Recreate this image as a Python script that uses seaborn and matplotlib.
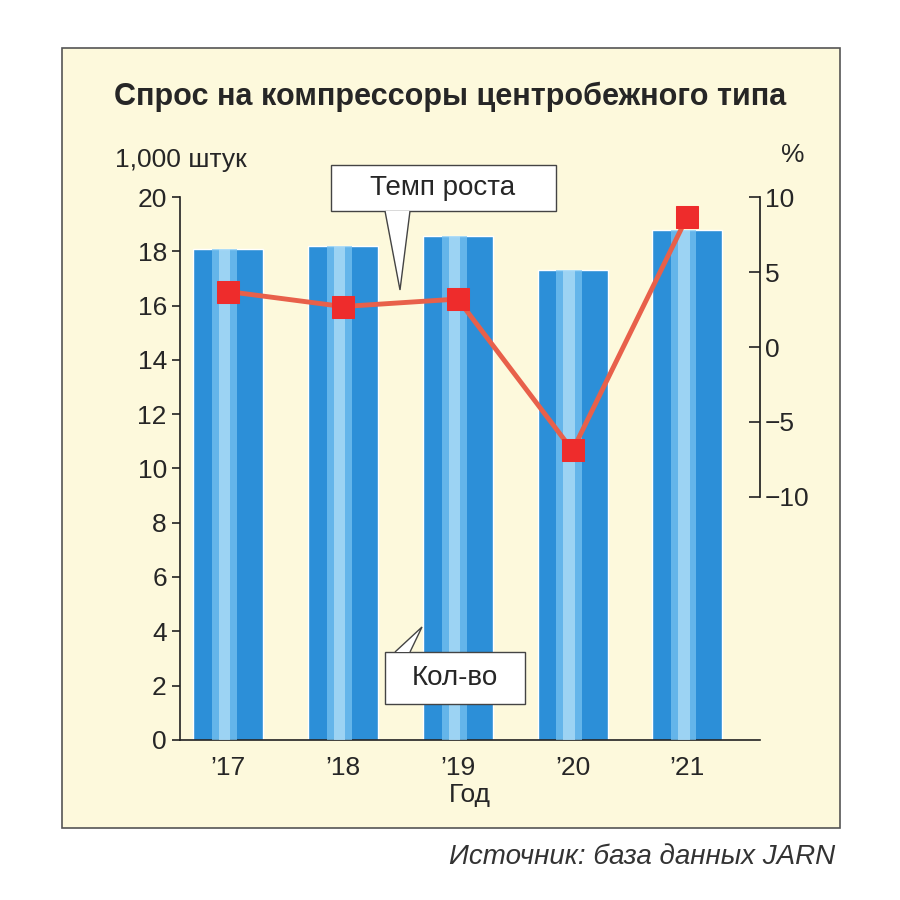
import matplotlib
matplotlib.use("Agg")
import matplotlib.pyplot as plt
import seaborn as sns
import pandas as pd
from matplotlib.patches import Rectangle

years = ["’17", "’18", "’19", "’20", "’21"]
quantity = [18.1, 18.2, 18.55, 17.3, 18.8]
growth = [3.7, 2.7, 3.2, -6.9, 8.7]
left_ticks = [0, 2, 4, 6, 8, 10, 12, 14, 16, 18, 20]
right_ticks = [-10, -5, 0, 5, 10]
right_labels = ["−10", "−5", "0", "5", "10"]

sns.set_theme(style="white")
plt.rcParams['font.family'] = ['Liberation Sans Narrow', 'Liberation Sans', 'DejaVu Sans']

fig = plt.figure(figsize=(9, 9), dpi=100)
fig.patch.set_facecolor("white")
bg = "#fdf9dc"
fig.patches.append(Rectangle((62/900, 1-828/900), 778/900, 780/900, transform=fig.transFigure,
                             facecolor=bg, edgecolor="#555555", lw=1.2, zorder=-5))

ax = fig.add_axes([0.2, 0.178, 0.644, 0.603])
ax.set_facecolor("none")
df = pd.DataFrame({"year": years, "q": quantity})
sns.barplot(data=df, x="year", y="q", color="#2c8fd8", width=0.61, saturation=1, ax=ax)
for i, v in enumerate(quantity):
    ax.bar(i - 0.03, v, width=0.22, color="#7cc6f2", alpha=0.7, lw=0, zorder=3)
    ax.bar(i - 0.03, v, width=0.1, color="#b5e0f8", alpha=0.7, lw=0, zorder=3)
ax.set_xlim(-0.42, 4.63)
ax.set_ylim(0, 20)
ax.set_yticks(left_ticks)
ax.tick_params(axis="y", direction="out", length=6, width=1.2, color="#222", labelsize=19, left=True)
ax.tick_params(axis="x", length=0, labelsize=19, pad=12)
for s in ["top", "right"]:
    ax.spines[s].set_visible(False)
for s in ["left", "bottom"]:
    ax.spines[s].set_color("#222"); ax.spines[s].set_linewidth(1.2)
ax.set_xlabel("Год", fontsize=19, labelpad=2)
ax.set_ylabel("")

ax2 = ax.twinx()
ax2.set_ylim(-26.2, 10)
sns.lineplot(x=list(range(5)), y=growth, ax=ax2, color="#e8604a", lw=3.5,
             marker="s", markersize=16, markerfacecolor="#ee2c2c", markeredgecolor="#ee2c2c", zorder=5)
ax2.set_yticks(right_ticks)
ax2.set_yticklabels(right_labels)
ax2.tick_params(axis="y", direction="in", length=8, width=1.2, color="#222", labelsize=19, right=True, pad=4)
for s in ["top", "left", "bottom"]:
    ax2.spines[s].set_visible(False)
ax2.spines["right"].set_bounds(-10, 10)
ax2.spines["right"].set_color("#222")
ax2.grid(False); ax.grid(False)

fig.text(0.5, 1-97/900, "Спрос на компрессоры центробежного типа", ha="center", va="center",
         fontsize=22, fontweight="bold")
fig.text(115/900, 1-160/900, "1,000 штук", ha="left", va="center", fontsize=19)
fig.text(793/900, 1-155/900, "%", ha="center", va="center", fontsize=19)
fig.text(835/900, 1-857/900, "Источник: база данных JARN", ha="right", va="center",
         fontsize=20, style="italic", color="#333")

def callout(cx, cy, w, h, text, tip, base):
    fig.patches.append(Rectangle((cx - w/2, cy - h/2), w, h, transform=fig.transFigure,
                                 facecolor="white", edgecolor="#444", lw=1, zorder=10))
    fig.add_artist(plt.Polygon([base[0], tip, base[1]], closed=False, transform=fig.transFigure,
                               facecolor="white", edgecolor="#444", lw=1, zorder=11))
    fig.text(cx, cy, text, ha="center", va="center", fontsize=20, zorder=12)

callout(443/900, 1-188/900, 225/900, 46/900, "Темп роста", (400/900, 1-290/900),
        [(385/900, 1-211/900), (410/900, 1-211/900)])
callout(455/900, 1-678/900, 140/900, 52/900, "Кол-во", (422/900, 1-627/900),
        [(395/900, 1-652/900), (410/900, 1-652/900)])

fig.savefig("out.png", dpi=100)
